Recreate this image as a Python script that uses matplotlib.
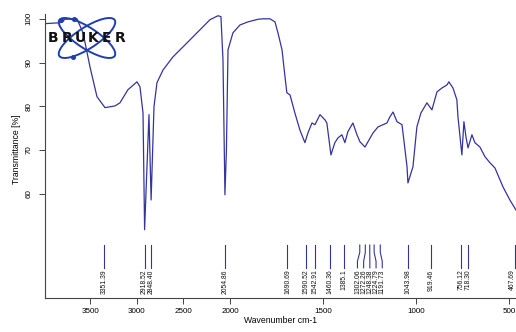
import numpy as np
import matplotlib
matplotlib.use("Agg")
import matplotlib.pyplot as plt
from matplotlib.patches import Ellipse

# spectrum (wavenumber cm-1, transmittance %)
wavenumber = [3989, 3828, 3806, 3774, 3645, 3580, 3505, 3430, 3344, 3236, 3183, 3097,
              3000, 2968, 2935, 2918, 2871, 2848, 2817, 2785, 2720, 2613, 2462, 2322,
              2215, 2129, 2097, 2075, 2054, 2038, 2021, 1984, 1946, 1903, 1849, 1823,
              1785, 1758, 1742, 1720, 1704, 1694, 1677, 1651, 1624, 1597, 1581, 1559,
              1543, 1516, 1489, 1479, 1457, 1436, 1419, 1398, 1382, 1366, 1339, 1317,
              1301, 1274, 1258, 1231, 1204, 1177, 1156, 1140, 1123, 1102, 1075, 1065,
              1048, 1043, 1016, 995, 973, 941, 914, 887, 860, 833, 823, 801,
              780, 774, 753, 742, 731, 720, 699, 683, 656, 629, 602, 575,
              532, 495, 462]
transmittance = [98.9, 99.1, 99.3, 99.9, 100.0, 96.8, 89.0, 82.2, 79.7, 80.1, 80.8, 83.8,
                 85.6, 84.5, 78.5, 51.8, 78.1, 58.6, 79.9, 85.4, 88.3, 91.3, 94.5, 97.5,
                 99.8, 100.7, 100.5, 90.6, 59.8, 70.1, 92.9, 96.8, 98.6, 99.3, 99.9, 100.0,
                 100.0, 99.3, 96.8, 92.9, 86.7, 83.1, 82.6, 78.5, 74.6, 71.7, 73.9, 76.2,
                 75.8, 78.1, 76.9, 76.2, 68.9, 71.7, 72.8, 73.5, 71.7, 74.2, 76.2, 73.5,
                 71.9, 70.7, 71.9, 73.9, 75.3, 75.8, 76.2, 77.6, 78.7, 76.5, 75.8, 72.3,
                 66.2, 62.5, 66.2, 75.3, 78.5, 80.8, 79.2, 83.3, 84.2, 84.9, 85.6, 84.2,
                 81.5, 77.6, 68.9, 76.5, 73.0, 70.5, 73.5, 71.7, 70.7, 68.5, 67.1, 65.9,
                 61.6, 58.6, 56.3]

peaks = [3351.39, 2918.52, 2848.40, 2054.86, 1690.69, 1590.52, 1542.91, 1460.36,
         1385.1, 1302.06, 1272.26, 1248.38, 1224.79, 1191.73, 1043.98, 919.46,
         756.12, 718.30, 467.69]
peak_labels = ["3351.39", "2918.52", "2848.40", "2054.86", "1690.69", "1590.52",
               "1542.91", "1460.36", "1385.1", "1302.06", "1272.26", "1248.38",
               "1224.79", "1191.73", "1043.98", "919.46", "756.12", "718.30", "467.69"]

x_ticks = [3500, 3000, 2500, 2000, 1500, 1000, 500]
y_ticks = [60, 70, 80, 90, 100]


# OPUS style axis: above 2000 cm-1 is squeezed by 2
def fwd(w):
    w = np.asarray(w, dtype=float)
    return np.where(w >= 2000, 2000 + (w - 2000) / 2, w)


def inv(u):
    u = np.asarray(u, dtype=float)
    return np.where(u >= 2000, 2000 + (u - 2000) * 2, u)


plt.rcParams['font.family'] = ['Liberation Sans', 'DejaVu Sans']
fig = plt.figure(figsize=(5.16, 3.32), dpi=100)
ax = fig.add_axes([45 / 516, 34 / 332, 471 / 516, 298 / 332])
ax.set_xscale('function', functions=(fwd, inv))
ax.set_xlim(3989, 462)
ax.set_ylim(36.2, 104.3)

line_col = "#3434a0"
ax.plot(wavenumber, transmittance, color=line_col, lw=0.9, zorder=3)

# spread the peak labels so they don't sit on each other
px = ax.transData.transform(np.column_stack([peaks, np.full(len(peaks), 40.0)]))[:, 0]
lab_px = px.copy()
gap = 6.2
for i in range(1, len(lab_px)):
    if lab_px[i] - lab_px[i - 1] < gap:
        lab_px[i] = lab_px[i - 1] + gap
# pull crowded group back so it sits centred on its peaks
shift = (lab_px[9:14] - px[9:14]).mean()
lab_px[9:14] -= shift
to_data = ax.transData.inverted()
line_x = to_data.transform(np.column_stack([lab_px, np.full(len(peaks), 40.0)]))[:, 0]
txt_px = np.minimum(lab_px, 512)
txt_x = to_data.transform(np.column_stack([txt_px, np.full(len(peaks), 40.0)]))[:, 0]

for p, lx, tx, lab in zip(peaks, line_x, txt_x, peak_labels):
    ax.plot([p, p, lx, lx], [48.3, 46.6, 44.6, 43.1], color=line_col, lw=0.8)
    ax.text(tx, 42.7, lab, rotation=90, ha='center', va='top', fontsize=4.9,
            color="#111111")

for s in ['top', 'right']:
    ax.spines[s].set_visible(False)
ax.spines['left'].set_bounds(36.2, 101)
ax.spines['left'].set_color("#444444")
ax.spines['bottom'].set_color("#444444")
ax.set_xticks(x_ticks)
ax.set_xticklabels([str(t) for t in x_ticks])
ax.set_yticks(y_ticks)
ax.set_yticklabels([str(t) for t in y_ticks], rotation=90, va='center')
ax.tick_params(axis='both', length=4, width=0.7, labelsize=5.8, color="#444444")
ax.tick_params(axis='x', pad=3)
ax.tick_params(axis='y', pad=5)
ax.xaxis.set_minor_locator(plt.NullLocator())
ax.set_xlabel("Wavenumber cm-1", fontsize=6.2, labelpad=1)
ax.set_ylabel("Transmittance [%]", fontsize=6.2, labelpad=3)

# bruker logo, drawn in figure pixel units (y downwards)
logo = fig.add_axes([45 / 516, (332 - 64) / 332, 88 / 516, 56 / 332], zorder=1)
logo.set_xlim(45, 133)
logo.set_ylim(64, 8)
logo.axis('off')
logo_col = "#1f3fb0"
logo.add_patch(Ellipse((87, 38), 66, 21, angle=33, fill=False, ec=logo_col, lw=1.4))
logo.add_patch(Ellipse((87, 38), 66, 21, angle=-33, fill=False, ec=logo_col, lw=1.4))
logo.plot([74, 73, 61], [19, 57, 20], 'o', color=logo_col, ms=2.6)
for i, ch in enumerate("BRUKER"):
    logo.text(53.5 + i * 13.3, 37.5, ch, ha='center', va='center', fontsize=10,
              fontweight='bold', color="#111111", family='DejaVu Sans')

fig.savefig("out.png", dpi=100)
